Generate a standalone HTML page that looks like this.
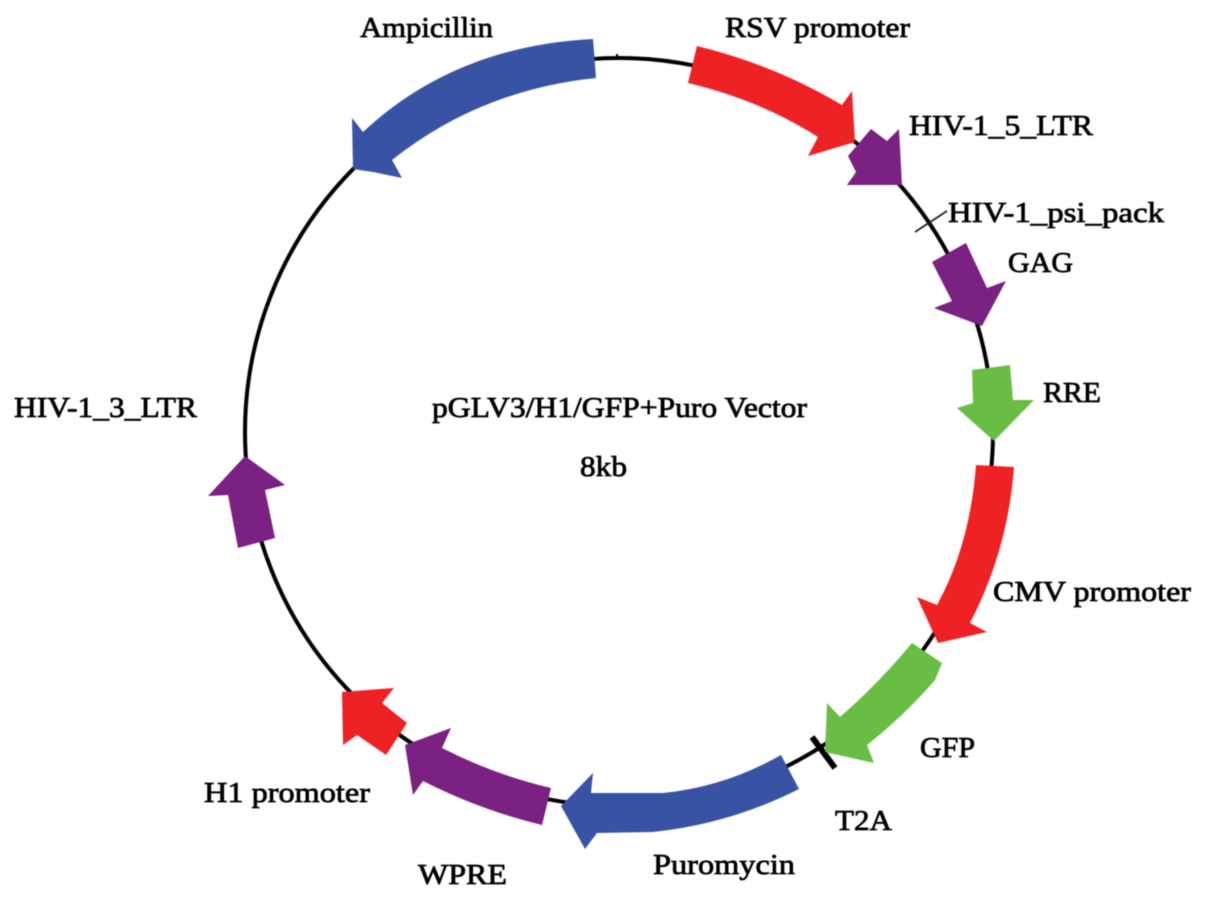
<!DOCTYPE html>
<html>
<head>
<meta charset="utf-8">
<style>
html,body{margin:0;padding:0;background:#fff;width:1205px;height:899px;overflow:hidden}
svg{display:block;filter:blur(0.6px)}
text{font-family:"Liberation Serif",serif;font-size:29px;fill:#000;stroke:#000;stroke-width:0.75px}
</style>
</head>
<body>
<svg width="1205" height="899" viewBox="0 0 1205 899" xmlns="http://www.w3.org/2000/svg">
<circle cx="619" cy="432" r="374" fill="none" stroke="#000" stroke-width="4"/>
<line x1="617" y1="54" x2="617" y2="60" stroke="#000" stroke-width="2"/>
<line x1="915" y1="232" x2="947" y2="211" stroke="#222" stroke-width="1.8"/>
<line x1="812" y1="737" x2="835" y2="768" stroke="#000" stroke-width="6"/>

<path fill="#3953a4" d="M593,39 L596,78 Q480,90 392,160 L402,178 L373,172 L353,169 L352,118 L363,132 Q455,46 593,39 Z"/>
<path fill="#ee2125" d="M697,46 Q775,65 842,105 L852,91 L855,142 L808,156 L818,137 Q760,100 688,83 Z"/>
<path fill="#7a2181" d="M871,129 L887,141 L899,129 L902,185 L847,185 L856,172 L848,156 Z"/>
<path fill="#7a2181" d="M932,262 L966,243 L987,288 L1006,281 L982,326 L934,308 L952,301 Z"/>
<path fill="#69bd45" d="M972,370 L1010,365 L1013,400 L1034,400 L994,441 L957,408 L973,403 Z"/>
<path fill="#ee2125" d="M976,465 L1014,467 Q1008,550 970,623 L987,632 L938,643 L917,597 L937,605 Q970,545 976,465 Z"/>
<path fill="#69bd45" d="M912,643 L942,663 L935,680 Q905,715 867,745 L874,763 L825,752 L827,703 L840,717 Q878,684 912,643 Z"/>
<path fill="#3953a4" d="M781,755 L799,789 Q730,824 653,832 L597,833 L585,849 L561,806 L593,773 L591,793 L663,793 Q725,787 781,755 Z"/>
<path fill="#7a2181" d="M551,788 L542,825 Q480,810 423,781 L413,795 L405,745 L451,728 L442,748 Q495,775 551,788 Z"/>
<path fill="#ee2125" d="M342,692 L394,688 L382,703 L407,723 L386,755 L357,735 L343,745 Z"/>
<path fill="#7a2181" d="M245,456 L285,485 L265,490 L275,538 L238,548 L228,495 L208,496 Z"/>

<text x="360" y="37" textLength="133" lengthAdjust="spacingAndGlyphs">Ampicillin</text>
<text x="725" y="37" textLength="185" lengthAdjust="spacingAndGlyphs">RSV promoter</text>
<text x="909" y="135" textLength="184" lengthAdjust="spacingAndGlyphs">HIV-1_5_LTR</text>
<text x="948" y="222" textLength="216" lengthAdjust="spacingAndGlyphs">HIV-1_psi_pack</text>
<text x="1008" y="272" textLength="65" lengthAdjust="spacingAndGlyphs">GAG</text>
<text x="1043" y="402" textLength="58" lengthAdjust="spacingAndGlyphs">RRE</text>
<text x="993" y="601" textLength="198" lengthAdjust="spacingAndGlyphs">CMV promoter</text>
<text x="920" y="757" textLength="55" lengthAdjust="spacingAndGlyphs">GFP</text>
<text x="835" y="830" textLength="57" lengthAdjust="spacingAndGlyphs">T2A</text>
<text x="653" y="874" textLength="142" lengthAdjust="spacingAndGlyphs">Puromycin</text>
<text x="418" y="884" textLength="89" lengthAdjust="spacingAndGlyphs">WPRE</text>
<text x="204" y="802" textLength="166" lengthAdjust="spacingAndGlyphs">H1 promoter</text>
<text x="14" y="417" textLength="183" lengthAdjust="spacingAndGlyphs">HIV-1_3_LTR</text>
<text x="432" y="417" textLength="375" lengthAdjust="spacingAndGlyphs">pGLV3/H1/GFP+Puro Vector</text>
<text x="580" y="476" textLength="47" lengthAdjust="spacingAndGlyphs">8kb</text>
</svg>
</body>
</html>
